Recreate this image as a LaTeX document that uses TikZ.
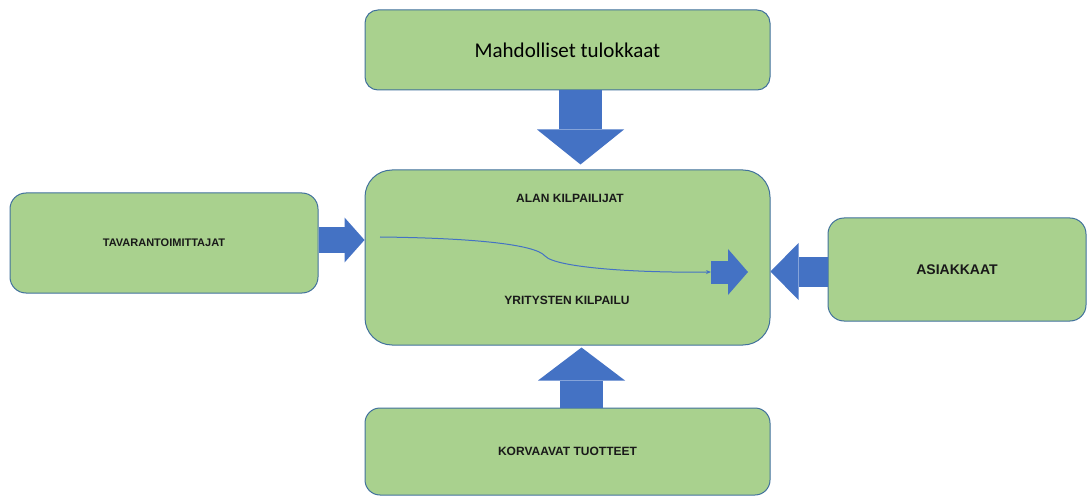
\documentclass[tikz,border=0pt]{standalone}
\usepackage{fontspec}
\setmainfont{Liberation Sans}
\newfontfamily\calibrifont{Carlito}
\usepackage{tikz}
\usetikzlibrary{arrows.meta, calc}
\definecolor{forcefill}{HTML}{A9D18E}
\definecolor{forceline}{HTML}{41719C}
\definecolor{forceblue}{HTML}{4472C4}
\tikzset{
  forcebox/.style={draw=forceline, line width=1pt, fill=forcefill,
                   rounded corners=#1, inner sep=0pt, align=center},
  forcebox/.default=15pt,
  caps/.style={font=\bfseries\fontsize{12}{14}\selectfont, text=black!90},
  bigflow/.style n args={3}{draw=forceblue, line width=#1,
                   -{Triangle[width=#2, length=#3, line width=0pt]}},
  thinflow/.style={draw=forceblue, line width=1pt,
                   -{Stealth[length=5pt, width=4pt]}},
}

\begin{document}
\begin{tikzpicture}[x=1pt, y=-1pt]
  \useasboundingbox (0,0) rectangle (1087,497);

  % boxes
  \node[forcebox=13pt, minimum width=405pt, minimum height=80pt,
        font=\calibrifont\fontsize{21}{25}\selectfont] (tulok) at (567.5,50) {Mahdolliset tulokkaat};
  \node[forcebox=27pt, minimum width=405pt, minimum height=175pt] (core) at (567.5,257.5) {};
  \node[forcebox=16pt, minimum width=308pt, minimum height=100pt, caps,
        font=\bfseries\fontsize{11}{13}\selectfont] (tava) at (164,243) {TAVARANTOIMITTAJAT};
  \node[forcebox=16pt, minimum width=258pt, minimum height=103pt, caps,
        font=\bfseries\fontsize{14}{16}\selectfont] (asiak) at (957,269.5) {ASIAKKAAT};
  \node[forcebox=15pt, minimum width=405pt, minimum height=87pt, caps] (korv) at (567.5,451.5) {KORVAAVAT TUOTTEET};

  % texts inside the core box
  \node[caps] (alan) at (570,198) {ALAN KILPAILIJAT};
  \node[caps] (yrit) at (567,300) {YRITYSTEN KILPAILU};

  % block arrows
  \draw[bigflow={43pt}{87pt}{35pt}, shorten >=5pt] ([xshift=13pt]tulok.south) -- ([xshift=13pt]tulok.south |- core.north);
  \draw[bigflow={43pt}{87pt}{33pt}, shorten >=2pt] ([xshift=14pt]korv.north) -- ([xshift=14pt]korv.north |- core.south);
  \draw[bigflow={25pt}{45pt}{20pt}] ([yshift=3pt]tava.east) -- ([yshift=3pt]tava.east -| core.west);
  \draw[bigflow={30pt}{57pt}{28pt}] ([yshift=-2pt]asiak.west) -- ([yshift=-2pt]asiak.west -| core.east);

  % inner arrow and curve
  \coordinate (inA) at (711,272);
  \coordinate (inB) at (748,272);
  \coordinate (curveA) at (380,237);
  \draw[bigflow={23pt}{46pt}{20pt}] (inA) -- (inB);
  \draw[thinflow] (curveA) .. controls (470,238) and (535,244) .. (545,256)
                  .. controls (556,268) and (640,273) .. (inA);
\end{tikzpicture}
\end{document}
